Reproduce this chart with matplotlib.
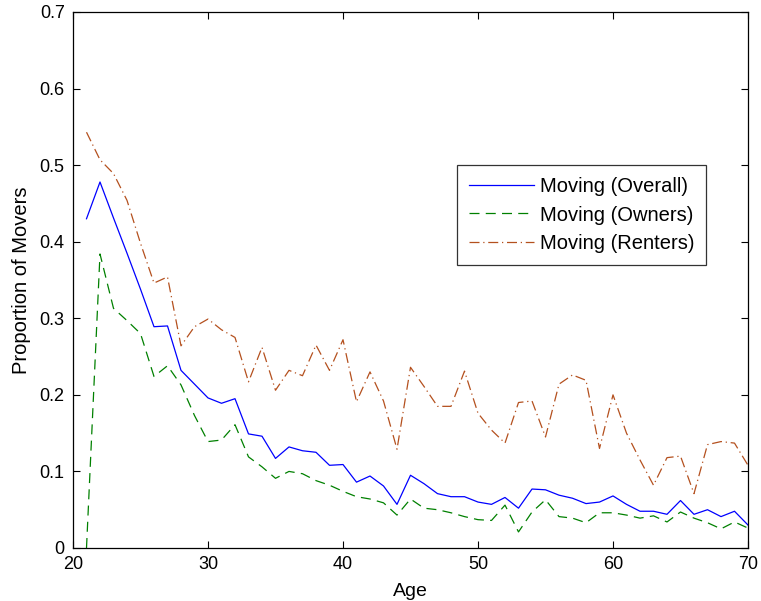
import matplotlib
matplotlib.use("Agg")
import matplotlib.pyplot as plt
import numpy as np

ages = list(range(21, 71))

overall = [0.430, 0.478, 0.431, 0.385, 0.338, 0.289, 0.290, 0.232, 0.214, 0.196,
           0.189, 0.195, 0.149, 0.146, 0.117, 0.132, 0.127, 0.125, 0.108, 0.109,
           0.086, 0.094, 0.081, 0.057, 0.095, 0.084, 0.071, 0.067, 0.067, 0.060,
           0.057, 0.066, 0.052, 0.077, 0.076, 0.069, 0.065, 0.058, 0.060, 0.068,
           0.057, 0.048, 0.048, 0.044, 0.062, 0.044, 0.050, 0.041, 0.048, 0.030]

owners = [0.000, 0.384, 0.313, 0.297, 0.280, 0.224, 0.238, 0.213, 0.173, 0.139,
          0.141, 0.161, 0.119, 0.106, 0.091, 0.100, 0.097, 0.088, 0.082, 0.074,
          0.067, 0.064, 0.059, 0.043, 0.064, 0.052, 0.050, 0.046, 0.041, 0.037,
          0.036, 0.056, 0.021, 0.047, 0.063, 0.041, 0.039, 0.033, 0.046, 0.046,
          0.043, 0.039, 0.042, 0.034, 0.047, 0.039, 0.033, 0.025, 0.034, 0.026]

renters = [0.543, 0.507, 0.489, 0.454, 0.398, 0.346, 0.354, 0.264, 0.289, 0.299,
           0.285, 0.275, 0.217, 0.262, 0.206, 0.232, 0.225, 0.265, 0.232, 0.272,
           0.191, 0.230, 0.192, 0.129, 0.236, 0.211, 0.185, 0.185, 0.231, 0.176,
           0.154, 0.137, 0.190, 0.192, 0.145, 0.214, 0.226, 0.219, 0.130, 0.200,
           0.150, 0.115, 0.082, 0.118, 0.120, 0.071, 0.135, 0.139, 0.137, 0.108]

labels = ["Moving (Overall)", "Moving (Owners)", "Moving (Renters)"]

plt.rcParams['font.family'] = ['Liberation Sans', 'DejaVu Sans']

fig = plt.figure(figsize=(7.61, 6.01), dpi=100)
ax = fig.add_axes([73/761, 53/601, 675/761, 536/601])

ax.plot(ages, overall, color='#0000ff', lw=0.9, ls='-', label=labels[0])
ax.plot(ages, owners, color='#008000', lw=0.9, ls=(0, (8, 5)), label=labels[1])
ax.plot(ages, renters, color='#b4501e', lw=0.9, ls=(0, (8, 3, 1, 3)), label=labels[2])

ax.set_xlim(20, 70)
ax.set_ylim(0, 0.7)
ax.set_xticks([20, 30, 40, 50, 60, 70])
ax.set_yticks([0, 0.1, 0.2, 0.3, 0.4, 0.5, 0.6, 0.7])
ax.set_yticklabels(['0', '0.1', '0.2', '0.3', '0.4', '0.5', '0.6', '0.7'])
ax.tick_params(direction='in', top=True, right=True, labelsize=13, length=5, width=0.8)
ax.tick_params(axis='x', pad=6)
ax.tick_params(axis='y', pad=6)
for s in ax.spines.values():
    s.set_linewidth(0.9)

ax.set_xlabel('Age', fontsize=14, labelpad=7)
ax.set_ylabel('Proportion of Movers', fontsize=14.5, labelpad=6)

leg = ax.legend(loc='upper left', bbox_to_anchor=(0.569, 0.7146), fontsize=14.5,
                frameon=True, fancybox=False, edgecolor='black', handlelength=3.2,
                borderpad=0.6, labelspacing=0.47, handletextpad=0.3, borderaxespad=0)
leg.get_frame().set_linewidth(0.9)

fig.savefig('out.png', dpi=100)
